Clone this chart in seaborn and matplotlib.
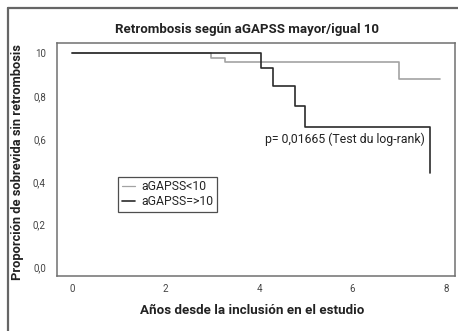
import matplotlib
matplotlib.use("Agg")
import matplotlib.pyplot as plt
from matplotlib.lines import Line2D
import seaborn as sns
import pandas as pd

# Data
low_times = [0.0, 2.97, 3.28, 7.0, 7.87]
low_surv = [1.0, 0.98, 0.96, 0.88, 0.88]
high_times = [0.0, 4.04, 4.29, 4.77, 4.98, 7.66]
high_surv = [1.0, 0.93, 0.846, 0.755, 0.655, 0.44]
groups = ["aGAPSS<10", "aGAPSS=>10"]
x_ticks = [0, 2, 4, 6, 8]
y_ticks = [0.0, 0.2, 0.4, 0.6, 0.8, 1.0]
y_tick_labels = ["0,0", "0,2", "0,4", "0,6", "0,8", "10"]
title = "Retrombosis según aGAPSS mayor/igual 10"
xlabel = "Años desde la inclusión en el estudio"
ylabel = "Proporción de sobrevida sin retrombosis"
pval_text = "p= 0,01665 (Test du log-rank)"

df = pd.DataFrame({
    "t": low_times + high_times,
    "s": low_surv + high_surv,
    "g": [groups[0]] * len(low_times) + [groups[1]] * len(high_times),
})

sns.set_style("white")
plt.rcParams["font.family"] = ["Roboto", "DejaVu Sans"]

fig = plt.figure(figsize=(4.58, 3.31), dpi=100)
ax = fig.add_axes([57 / 458, 1 - 276 / 331, (455 - 57) / 458, (276 - 43) / 331])

sns.lineplot(data=df, x="t", y="s", hue="g", palette={groups[0]: "#a3a3a3", groups[1]: "#2b2b2b"},
             estimator=None, sort=False, drawstyle="steps-post", linewidth=1.2, ax=ax, legend=False)

ax.set_xlim(-0.32, 8.19)
ax.set_ylim(-0.04, 1.048)
ax.set_xticks(x_ticks)
ax.set_xticklabels([str(v) for v in x_ticks])
ax.set_yticks(y_ticks)
ax.set_yticklabels(y_tick_labels)
ax.tick_params(axis="both", direction="out", length=4.5, width=0.8, color="#222222",
               labelsize=7, labelcolor="#444444")
ax.tick_params(axis="x", pad=1.0)
ax.tick_params(axis="y", pad=3.5)
for sp in ax.spines.values():
    sp.set_color("#707070")
    sp.set_linewidth(1.1)

ax.set_xlabel(xlabel, fontsize=9.6, fontweight="bold", color="#222222")
ax.xaxis.set_label_coords((252 - 57) / 398, (276 - 311) / 233)
ax.xaxis.label.set_va("center")
ax.set_ylabel(ylabel, fontsize=9.3, fontweight="bold", color="#222222")
ax.yaxis.set_label_coords((18 - 57) / 398, 0.49)
ax.yaxis.label.set_va("center")
fig.text(247 / 458, 1 - 30 / 331, title, ha="center", va="center",
         fontsize=9.5, fontweight="bold", color="#222222")

ax.text(7.55, 0.6, pval_text, ha="right", va="center", fontsize=8.8, color="#222222")

handles = [Line2D([], [], color="#a3a3a3", lw=0.9), Line2D([], [], color="#2b2b2b", lw=1.2)]
leg = ax.legend(handles, groups, loc="upper left", bbox_to_anchor=((118 - 57) / 398, (276 - 176.5) / 233),
                fontsize=8.8, frameon=True, fancybox=False, handlelength=1.1, handletextpad=0.5,
                labelspacing=0.15, borderpad=0.3, borderaxespad=0)
leg.get_frame().set_edgecolor("#222222")
leg.get_frame().set_linewidth(0.9)

# outer frame (partially visible)
fig.add_artist(Line2D([7.5 / 458, 7.5 / 458], [0, 1 - 7.5 / 331], transform=fig.transFigure,
                      color="#666666", lw=1.6))
fig.add_artist(Line2D([7.5 / 458, 1.0], [1 - 7.5 / 331, 1 - 7.5 / 331], transform=fig.transFigure,
                      color="#666666", lw=1.6))

fig.savefig("out.png", dpi=100)
